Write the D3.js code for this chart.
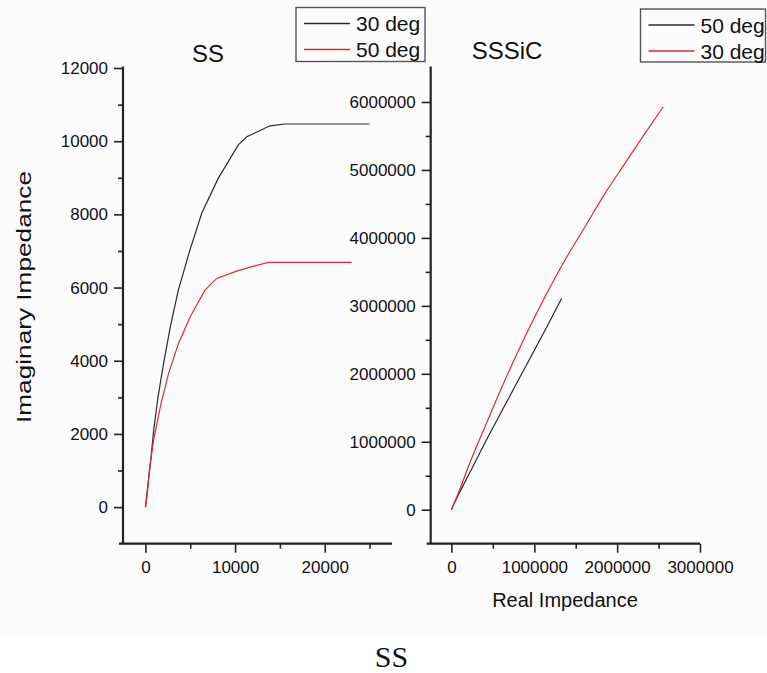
<!DOCTYPE html>
<html><head><meta charset="utf-8">
<script src="https://cdn.jsdelivr.net/npm/d3@7"></script>
<style>
html,body{margin:0;padding:0;background:#fff;}
svg text{font-family:"Liberation Sans",Arial,sans-serif;fill:#111;}
</style></head>
<body><svg id="c" width="767" height="673"></svg>
<script>
// ---- data (SS panel) ----
const ss30x = [0,300,560,920,1400,2030,2780,3670,4970,6280,8130,9240,10360,11300,13890,15570,25000];
const ss30y = [0,650,1200,2100,3000,3930,4930,5930,7030,8030,8990,9440,9900,10120,10420,10470,10470];
const ss50x = [0,190,440,920,1670,2590,3700,5000,6640,7950,10180,11300,13700,23000];
const ss50y = [0,290,1020,1840,2750,3660,4480,5200,5930,6250,6450,6530,6690,6690];
// ---- data (SSSiC panel) ----
const sic50x = [0,83000,245000,405000,647000,888000,1130000,1331000];
const sic50y = [0,215000,600000,985000,1540000,2090000,2642000,3111000];
const sic30x = [0,83000,204000,405000,647000,888000,1130000,1371000,1612000,1854000,2095000,2336000,2557000];
const sic30y = [0,241000,633000,1221000,1909000,2546000,3134000,3674000,4164000,4656000,5097000,5538000,5930000];
// ---- ticks / labels ----
const ssYTicks = [0,2000,4000,6000,8000,10000,12000];
const ssYMinor = [1000,3000,5000,7000,9000,11000];
const ssXTicks = [0,10000,20000];
const ssXMinor = [5000,15000,25000];
const sicYTicks = [0,1000000,2000000,3000000,4000000,5000000,6000000];
const sicYMinor = [500000,1500000,2500000,3500000,4500000,5500000];
const sicXTicks = [0,1000000,2000000,3000000];
const sicXMinor = [500000,1500000,2500000];
const legendSS = ["30 deg","50 deg"];
const legendSiC = ["50 deg","30 deg"];
const BLACK = "#2a2a2a", RED = "#e3263a";

const svg = d3.select("#c");
svg.append("rect").attr("x",0).attr("y",0).attr("width",767).attr("height",638).attr("fill","#fcfcfc");

function panel(o){
  const g = svg.append("g");
  const x = d3.scaleLinear().domain(o.xd).range(o.xr);
  const y = d3.scaleLinear().domain(o.yd).range(o.yr);
  // minor ticks
  const mx = g.append("g").attr("transform",`translate(0,${o.yr[0]})`)
    .call(d3.axisBottom(x).tickValues(o.xMinor).tickSize(5).tickFormat(""));
  mx.select(".domain").remove();
  const my = g.append("g").attr("transform",`translate(${o.xr[0]},0)`)
    .call(d3.axisLeft(y).tickValues(o.yMinor).tickSize(5).tickFormat(""));
  my.select(".domain").remove();
  // major
  const ax = g.append("g").attr("transform",`translate(0,${o.yr[0]})`)
    .call(d3.axisBottom(x).tickValues(o.xTicks).tickSize(9).tickSizeOuter(0).tickPadding(8).tickFormat(d3.format("d")));
  ax.select(".domain").remove();
  const ay = g.append("g").attr("transform",`translate(${o.xr[0]},0)`)
    .call(d3.axisLeft(y).tickValues(o.yTicks).tickSize(9).tickSizeOuter(0).tickPadding(6).tickFormat(d3.format("d")));
  ay.select(".domain").remove();
  g.selectAll(".tick line").attr("stroke","#222").attr("stroke-width",1.6);
  g.selectAll(".tick text").attr("font-size",17).attr("fill","#111")
    .style("font-family","Liberation Sans, Arial, sans-serif");
  // axis lines
  g.append("line").attr("x1",o.xr[0]-4).attr("x2",o.xr[1]).attr("y1",o.yr[0]).attr("y2",o.yr[0])
    .attr("stroke","#222").attr("stroke-width",2.2);
  g.append("line").attr("x1",o.xr[0]).attr("x2",o.xr[0]).attr("y1",o.yr[0]).attr("y2",o.yr[1]-1.5)
    .attr("stroke","#222").attr("stroke-width",2.2);
  // series
  const line = d3.line().curve(o.curve).x(d=>x(d[0])).y(d=>y(d[1]));
  o.series.forEach(s=>{
    g.append("path").datum(d3.zip(s.x,s.y)).attr("d",line)
      .attr("fill","none").attr("stroke",s.color).attr("stroke-width",1.2);
  });
  // title
  g.append("text").attr("x",o.titleX).attr("y",o.titleY).attr("text-anchor","middle")
    .attr("font-size",24).text(o.title);
  // legend
  const L = o.legend;
  g.append("rect").attr("x",L.x).attr("y",L.y).attr("width",L.w).attr("height",L.h)
    .attr("fill","none").attr("stroke","#555").attr("stroke-width",1.4);
  o.series.forEach((s,i)=>{
    const ly = L.y + 16 + i*26;
    g.append("line").attr("x1",L.x+8).attr("x2",L.x+54).attr("y1",ly).attr("y2",ly)
      .attr("stroke",s.color).attr("stroke-width",1.3);
    g.append("text").attr("x",L.x+60).attr("y",ly+7.5).attr("font-size",21).text(s.name);
  });
}

panel({
  xd:[-2500,27500], xr:[123,392], yd:[-1000,12000], yr:[543.7,68], curve:d3.curveLinear,
  xTicks:ssXTicks, xMinor:ssXMinor, yTicks:ssYTicks, yMinor:ssYMinor,
  series:[{x:ss30x,y:ss30y,color:BLACK,name:legendSS[0]},{x:ss50x,y:ss50y,color:RED,name:legendSS[1]}],
  title:"SS", titleX:208, titleY:62,
  legend:{x:296,y:7.5,w:129,h:54}
});
panel({
  xd:[-250000,3000000], xr:[430.7,700], yd:[-500000,6500000], yr:[543.7,68], curve:d3.curveMonotoneX,
  xTicks:sicXTicks, xMinor:sicXMinor, yTicks:sicYTicks, yMinor:sicYMinor,
  series:[{x:sic50x,y:sic50y,color:BLACK,name:legendSiC[0]},{x:sic30x,y:sic30y,color:RED,name:legendSiC[1]}],
  title:"SSSiC", titleX:507, titleY:59,
  legend:{x:640.5,y:9,w:125,h:53}
});

// axis titles
svg.append("text").attr("transform","translate(31,297) rotate(-90)").attr("text-anchor","middle")
  .attr("font-size",21).attr("textLength",252).attr("lengthAdjust","spacingAndGlyphs").text("Imaginary Impedance");
svg.append("text").attr("x",565).attr("y",607).attr("text-anchor","middle").attr("font-size",20).text("Real Impedance");
// caption
svg.append("text").attr("x",391.5).attr("y",667).attr("text-anchor","middle")
  .style("font-family","Liberation Serif, Times New Roman, serif").attr("font-size",30).text("SS");
</script></body></html>
